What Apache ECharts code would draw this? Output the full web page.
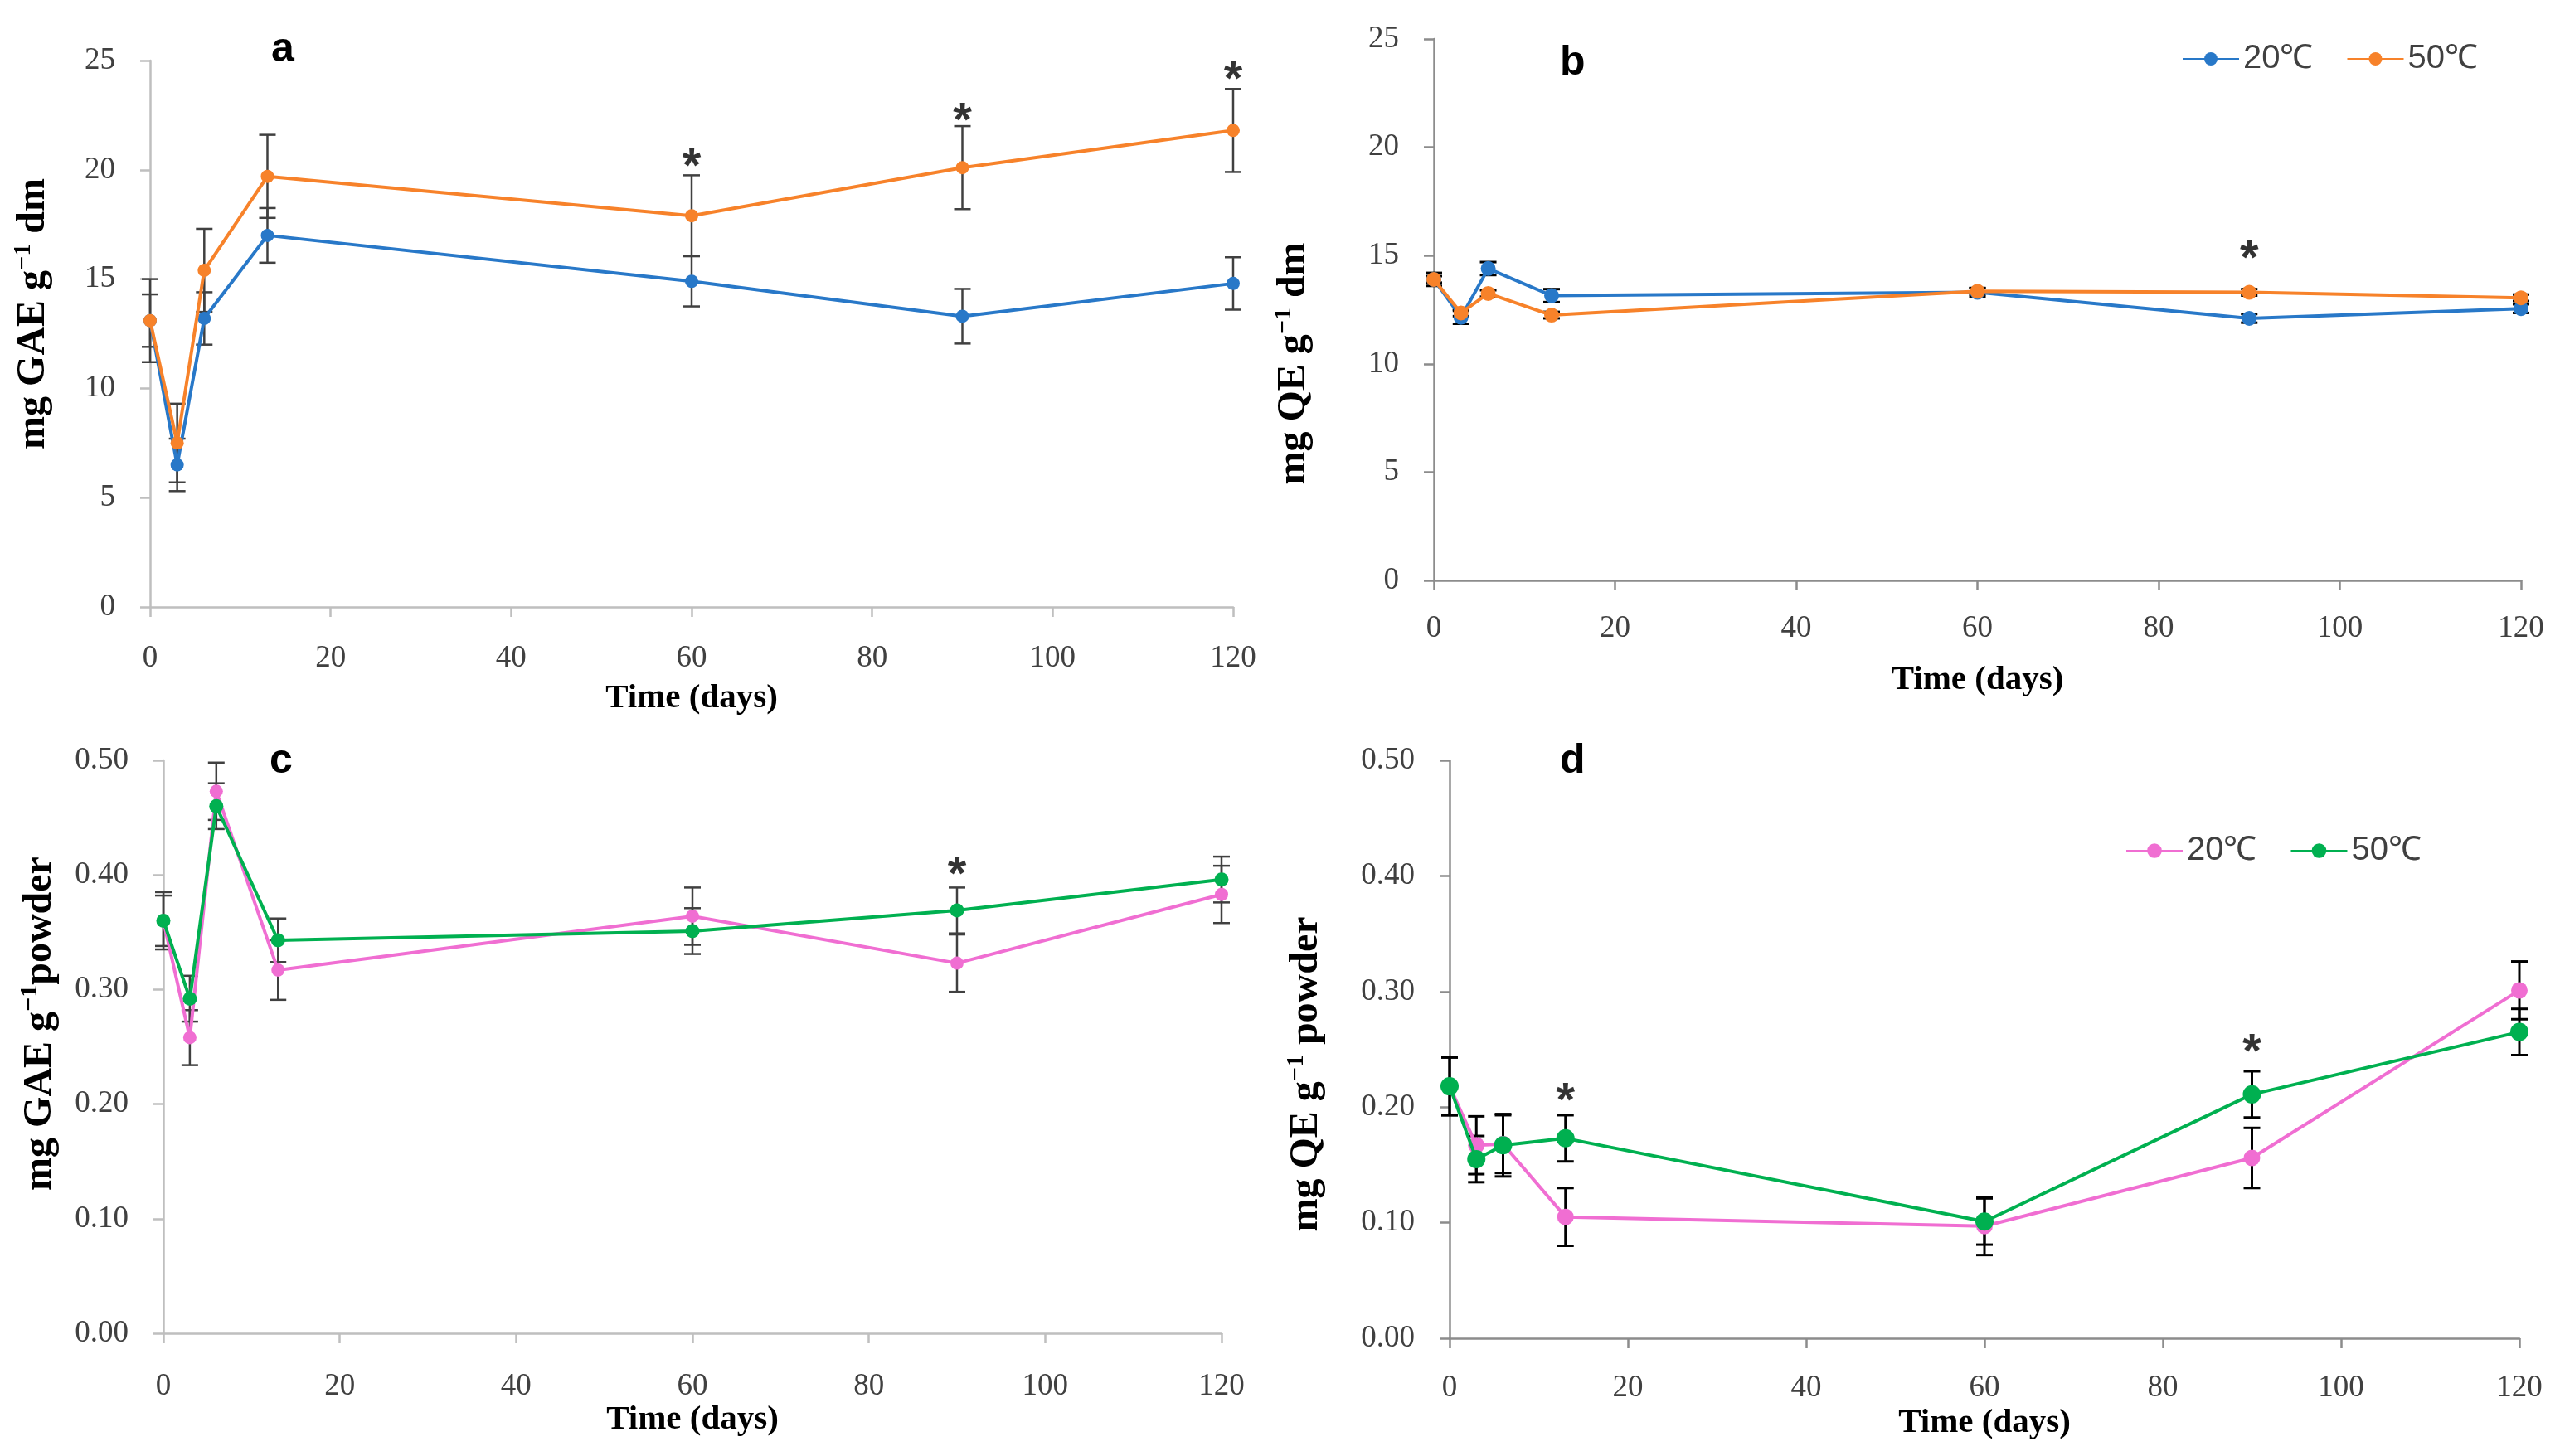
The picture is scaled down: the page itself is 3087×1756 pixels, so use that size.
<!DOCTYPE html>
<html>
<head>
<meta charset="utf-8">
<script src="https://cdn.jsdelivr.net/npm/echarts@6/dist/echarts.min.js"></script>
<style>
html,body{margin:0;padding:0;background:#fff;}
#main{width:3087px;height:1756px;}
</style>
</head>
<body>
<div id="main"></div>
<script>
// ---------- data ----------
const days = [0, 3, 6, 13, 60, 90, 120];
const xTicks = [0, 20, 40, 60, 80, 100, 120];

const a20 = [13.1, 6.5, 13.2, 17.0, 14.9, 13.3, 14.8];
const a20err = [1.2, 1.2, 1.2, 1.25, 1.15, 1.25, 1.2];
const a50 = [13.1, 7.5, 15.4, 19.7, 17.9, 20.1, 21.8];
const a50err = [1.9, 1.8, 1.9, 1.9, 1.85, 1.9, 1.9];

const b20 = [13.9, 12.15, 14.4, 13.15, 13.3, 12.1, 12.55];
const b20err = [0.3, 0.3, 0.3, 0.3, 0.2, 0.2, 0.2];
const b50 = [13.9, 12.35, 13.25, 12.25, 13.35, 13.3, 13.05];
const b50err = [0.15, 0.15, 0.15, 0.15, 0.15, 0.15, 0.15];

const c20 = [0.360, 0.258, 0.473, 0.317, 0.364, 0.323, 0.383];
const c20err = [0.025, 0.024, 0.025, 0.026, 0.025, 0.025, 0.025];
const c50 = [0.360, 0.292, 0.460, 0.343, 0.351, 0.369, 0.396];
const c50err = [0.022, 0.020, 0.020, 0.019, 0.020, 0.020, 0.020];

const d20 = [0.218, 0.167, 0.168, 0.105, 0.097, 0.156, 0.301];
const d20err = [0.025, 0.025, 0.025, 0.025, 0.025, 0.026, 0.025];
const d50 = [0.218, 0.155, 0.167, 0.173, 0.101, 0.211, 0.265];
const d50err = [0.025, 0.020, 0.027, 0.020, 0.020, 0.020, 0.020];

// significance marks [day, value]
const aStars = [[60, 20.6], [90, 22.7], [120, 24.6]];
const bStars = [[90, 15.3]];
const cStars = [[90, 0.409]];
const dStars = [[13, 0.214], [90, 0.256]];

const legendNames = ['20℃', '50℃'];
const panelLetters = ['a', 'b', 'c', 'd'];
const yTitles = [
  'mg GAE g{sup|−1} dm',
  'mg QE g{sup|−1} dm',
  'mg GAE g{sup|−1}powder',
  'mg QE g{sup|−1} powder'
];
const xTitle = 'Time (days)';

// ---------- styles ----------
const BLUE = '#2878c8', ORANGE = '#f7822a', PINK = '#f06ed2', GREEN = '#00b050';
const SERIF = '"Liberation Serif", "DejaVu Serif", serif';

const grids = [
  {left: 181, top: 73, width: 1306, height: 659},
  {left: 1729, top: 47, width: 1311, height: 653},
  {left: 197, top: 917, width: 1276, height: 691},
  {left: 1748, top: 917, width: 1290, height: 697}
];
const axisColors = ['#bfbfbf', '#8c8c8c', '#bfbfbf', '#8c8c8c'];
const xNameGaps = [90, 100, 81, 82];
const xLabelMargins = [44, 40, 46, 42];
const yNameGaps = [112, 140, 120, 144];
// shift of the vertical titles along the axis (padding left = up, right = down)
const yNamePads = [[0, 0, 0, 48], [0, 130, 0, 0], [0, 0, 0, 56], [0, 60, 0, 0]];

function errData(xs, ys, es) {
  return xs.map((x, i) => [x, ys[i] - es[i], ys[i] + es[i]]);
}
function pairs(xs, ys) { return xs.map((x, i) => [x, ys[i]]); }

function errSeries(idx, xs, ys, es, color, lw) {
  return {
    type: 'custom', xAxisIndex: idx, yAxisIndex: idx, z: 1,
    silent: true,
    data: errData(xs, ys, es),
    encode: {x: 0, y: [1, 2]},
    renderItem: function (params, api) {
      const x = api.value(0), lo = api.value(1), hi = api.value(2);
      const p1 = api.coord([x, hi]), p2 = api.coord([x, lo]);
      const w = 10;
      const st = {stroke: color, lineWidth: lw};
      return {type: 'group', children: [
        {type: 'line', shape: {x1: p1[0], y1: p1[1], x2: p2[0], y2: p2[1]}, style: st},
        {type: 'line', shape: {x1: p1[0] - w, y1: p1[1], x2: p1[0] + w, y2: p1[1]}, style: st},
        {type: 'line', shape: {x1: p2[0] - w, y1: p2[1], x2: p2[0] + w, y2: p2[1]}, style: st}
      ]};
    }
  };
}
function lineSeries(idx, name, xs, ys, color, size, z) {
  return {
    type: 'line', name: name, xAxisIndex: idx, yAxisIndex: idx, z: z,
    data: pairs(xs, ys), symbol: 'circle', symbolSize: size,
    lineStyle: {color: color, width: 4}, itemStyle: {color: color},
    emphasis: {disabled: true}, animation: false
  };
}
function starSeries(idx, pts) {
  return {
    type: 'scatter', xAxisIndex: idx, yAxisIndex: idx, z: 10,
    data: pts, symbol: 'circle', symbolSize: 1, itemStyle: {color: 'rgba(0,0,0,0)'},
    label: {show: true, position: 'inside', formatter: '*', offset: [0, 14],
      fontFamily: '"Liberation Sans", Arial, sans-serif', fontWeight: 'bold', fontSize: 58, color: '#000'},
    silent: true, animation: false
  };
}

const xAxes = grids.map((g, i) => ({
  type: 'value', gridIndex: i, min: 0, max: 120, interval: 20,
  name: xTitle, nameLocation: 'middle', nameGap: xNameGaps[i],
  nameTextStyle: {fontFamily: SERIF, fontWeight: 'bold', fontSize: 41, color: '#000'},
  axisLine: {show: true, lineStyle: {color: axisColors[i], width: 2.5}},
  axisTick: {show: true, inside: false, length: 12, lineStyle: {color: axisColors[i], width: 2.5}},
  axisLabel: {margin: xLabelMargins[i], fontFamily: SERIF, fontSize: 37, color: '#404040',
    customValues: xTicks},
  splitLine: {show: false}
}));
const yAxes = grids.map((g, i) => {
  const frac = i >= 2;
  return {
    type: 'value', gridIndex: i, min: 0, max: frac ? 0.5 : 25, interval: frac ? 0.1 : 5,
    name: yTitles[i], nameLocation: 'middle', nameGap: yNameGaps[i],
    nameTextStyle: {fontFamily: SERIF, fontWeight: 'bold', fontSize: 48, color: '#000',
      padding: yNamePads[i],
      rich: {sup: {fontFamily: SERIF, fontWeight: 'bold', fontSize: 30, color: '#000', padding: [0, 0, 26, 0]}}},
    axisLine: {show: true, onZero: false, lineStyle: {color: axisColors[i], width: 2.5}},
    axisTick: {show: true, inside: false, length: 12, lineStyle: {color: axisColors[i], width: 2.5}},
    axisLabel: {margin: 42, fontFamily: SERIF, fontSize: 37, color: '#404040',
      formatter: v => frac ? v.toFixed(2) : String(v)},
    splitLine: {show: false}
  };
});

const series = [
  // panel a
  errSeries(0, days, a20, a20err, '#404040', 2.5),
  errSeries(0, days, a50, a50err, '#404040', 2.5),
  lineSeries(0, 'a-20℃', days, a20, BLUE, 16, 3),
  lineSeries(0, 'a-50℃', days, a50, ORANGE, 16, 4),
  starSeries(0, aStars),
  // panel b
  errSeries(1, days, b20, b20err, '#000', 3),
  errSeries(1, days, b50, b50err, '#000', 3),
  lineSeries(1, 'b-20℃', days, b20, BLUE, 18, 3),
  lineSeries(1, 'b-50℃', days, b50, ORANGE, 18, 4),
  starSeries(1, bStars),
  // panel c
  errSeries(2, days, c20, c20err, '#404040', 2.5),
  errSeries(2, days, c50, c50err, '#404040', 2.5),
  lineSeries(2, 'c-20℃', days, c20, PINK, 16, 3),
  lineSeries(2, 'c-50℃', days, c50, GREEN, 17, 4),
  starSeries(2, cStars),
  // panel d
  errSeries(3, days, d20, d20err, '#000', 3),
  errSeries(3, days, d50, d50err, '#000', 3),
  lineSeries(3, 'd-20℃', days, d20, PINK, 20, 3),
  lineSeries(3, 'd-50℃', days, d50, GREEN, 22, 4),
  starSeries(3, dStars)
];

const legendText = {fontFamily: '"Liberation Sans Narrow", "Liberation Sans", sans-serif', fontSize: 40, color: '#404040'};
const option = {
  backgroundColor: '#fff',
  animation: false,
  title: [
    {text: panelLetters[0], left: 322, top: 30},
    {text: panelLetters[1], left: 1876, top: 46},
    {text: panelLetters[2], left: 320, top: 888},
    {text: panelLetters[3], left: 1876, top: 888}
  ].map(t => Object.assign(t, {textStyle: {fontFamily: '"Liberation Sans", Arial, sans-serif', fontWeight: 'bold', fontSize: 50, color: '#000'}})),
  legend: [
    {data: ['b-' + legendNames[0], 'b-' + legendNames[1]], left: 2626, top: 46, itemWidth: 68, itemHeight: 20, itemGap: 40,
      formatter: n => n.slice(2), textStyle: legendText, selectedMode: false},
    {data: ['d-' + legendNames[0], 'd-' + legendNames[1]], left: 2558, top: 1001, itemWidth: 68, itemHeight: 22, itemGap: 40,
      formatter: n => n.slice(2), textStyle: legendText, selectedMode: false}
  ],
  grid: grids,
  xAxis: xAxes,
  yAxis: yAxes,
  series: series
};

const chart = echarts.init(document.getElementById('main'));
chart.setOption(option);
</script>
</body>
</html>
